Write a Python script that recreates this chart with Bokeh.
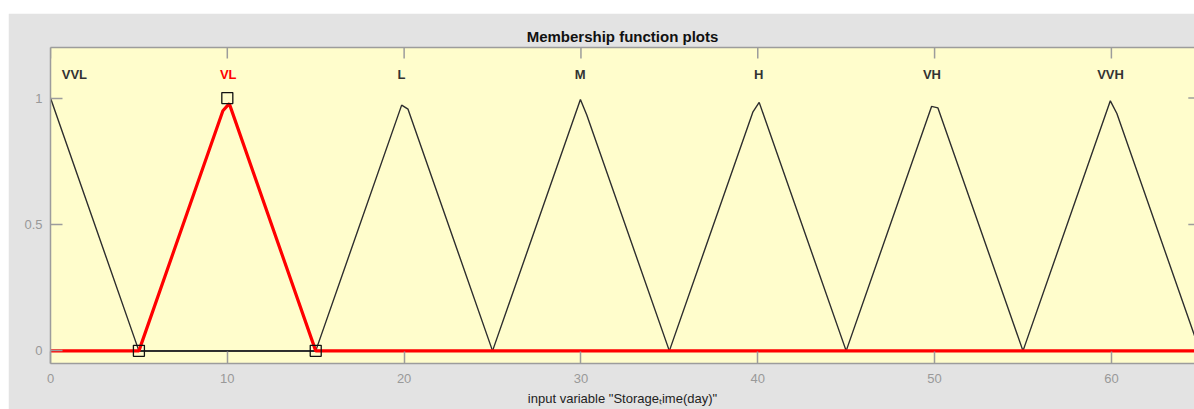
import math
from bokeh.plotting import figure
from bokeh.models import Range1d, LinearAxis, FixedTicker, NumeralTickFormatter
from bokeh.core.properties import value
from bokeh.embed import file_html
from bokeh.resources import INLINE

# ---- data ----
mf_names = ["VVL", "VL", "L", "M", "H", "VH", "VVH"]
mf_label_x = [1.35, 10.05, 19.85, 29.95, 40.05, 49.85, 59.95]
mf_label_y = [1.095, 1.095, 1.095, 1.095, 1.095, 1.095, 1.095]

vvl_x = [0, 5, 65]
vvl_y = [1, 0, 0]
vl_x = [0, 5, 9.75, 10.11, 15, 65]
vl_y = [0, 0, 0.95, 0.978, 0, 0]
l_x = [0, 15, 19.86, 20.22, 25, 65]
l_y = [0, 0, 0.972, 0.956, 0, 0]
m_x = [0, 25, 29.97, 30.33, 35, 65]
m_y = [0, 0, 0.994, 0.933, 0, 0]
h_x = [0, 35, 39.72, 40.08, 45, 65]
h_y = [0, 0, 0.944, 0.983, 0, 0]
vh_x = [0, 45, 49.83, 50.19, 55, 65]
vh_y = [0, 0, 0.967, 0.961, 0, 0]
vvh_x = [0, 55, 59.94, 60.31, 65]
vvh_y = [0, 0, 0.989, 0.939, 0]

mf_xs = [vvl_x, vl_x, l_x, m_x, h_x, vh_x, vvh_x]
mf_ys = [vvl_y, vl_y, l_y, m_y, h_y, vh_y, vvh_y]
selected_index = 1
selected_params_x = [5, 10, 15]
selected_params_y = [0, 1, 0]

x_ticks = [0, 10, 20, 30, 40, 50, 60]
y_ticks = [0, 0.5, 1]
x_limits = [0, 65]          # full axis range (the picture is cropped at ~64.7)
x_visible_end = 64.7
y_limits = [-0.05, 1.2]

title_text = "Membership function plots"
x_label = 'input variable "Storage\u209cime(day)"'

# ---- styles ----
GREY_BG = "#e3e3e3"
YELLOW = "#fffdcc"
AXIS_GREY = "#9c9c9c"
LABEL_GREY = "#999999"
FONT = "Liberation Sans"

p = figure(width=1186, height=396,
           x_range=Range1d(x_limits[0], x_visible_end),
           y_range=Range1d(y_limits[0], y_limits[1]),
           output_backend="svg", toolbar_location=None,
           min_border_left=42, min_border_right=0,
           min_border_top=34, min_border_bottom=46,
           title=title_text)
p.margin = (13, 0, 0, 8)
p.background_fill_color = YELLOW
p.border_fill_color = GREY_BG
p.outline_line_color = None
p.grid.visible = False

p.title.align = "center"
p.title.text_font = FONT
p.title.text_font_size = "15px"
p.title.text_font_style = "bold"
p.title.text_color = "#111111"
p.title.standoff = 5

def style_axis(ax, tick_in):
    ax.axis_line_color = AXIS_GREY
    ax.axis_line_width = 1.5
    ax.major_tick_line_color = AXIS_GREY
    ax.major_tick_line_width = 1.5
    ax.major_tick_in = tick_in
    ax.major_tick_out = 0
    ax.minor_tick_line_color = None
    ax.major_label_text_color = LABEL_GREY
    ax.major_label_text_font = FONT
    ax.major_label_text_font_size = "13px"

xa = p.xaxis[0]
xa.ticker = FixedTicker(ticks=x_ticks)
style_axis(xa, 12)
xa.major_label_standoff = 10
xa.axis_label = x_label
xa.axis_label_text_font = FONT
xa.axis_label_text_font_size = "13px"
xa.axis_label_text_font_style = "normal"
xa.axis_label_text_color = "#222222"
xa.axis_label_standoff = 5

ya = p.yaxis[0]
ya.ticker = FixedTicker(ticks=y_ticks)
ya.formatter = NumeralTickFormatter(format="0.[0]")
style_axis(ya, 12)
ya.major_label_standoff = 8

# top border line (ticks drawn below as clipped dash markers)
top = LinearAxis(ticker=FixedTicker(ticks=[], minor_ticks=[]))
style_axis(top, 0)
top.major_label_standoff = 0
p.add_layout(top, "above")

# inward ticks on the top border and on the (cropped) right border
p.scatter(x_ticks, [y_limits[1]] * len(x_ticks), marker="dash", angle=math.pi / 2,
          size=22, line_color=AXIS_GREY, line_width=1.5)
p.scatter([x_limits[1]] * len(y_ticks), y_ticks, marker="dash",
          size=23, line_color=AXIS_GREY, line_width=1.5)

for i, (xs, ys) in enumerate(zip(mf_xs, mf_ys)):
    if i != selected_index:
        p.line(xs, ys, line_color="#2e2e2e", line_width=1.4)
p.line(mf_xs[selected_index], mf_ys[selected_index], line_color="#ff0000", line_width=3.2)
p.scatter(selected_params_x, selected_params_y, marker="square", size=11,
          fill_color=None, line_color="#111111", line_width=1.3)

label_colors = ["#ff0000" if i == selected_index else "#333333" for i in range(len(mf_names))]
p.text(mf_label_x, mf_label_y, text=mf_names, text_color=label_colors,
       text_align="center", text_baseline="middle",
       text_font=value(FONT), text_font_size="13px", text_font_style="bold")

open("out.html", "w").write(file_html(p, INLINE))
